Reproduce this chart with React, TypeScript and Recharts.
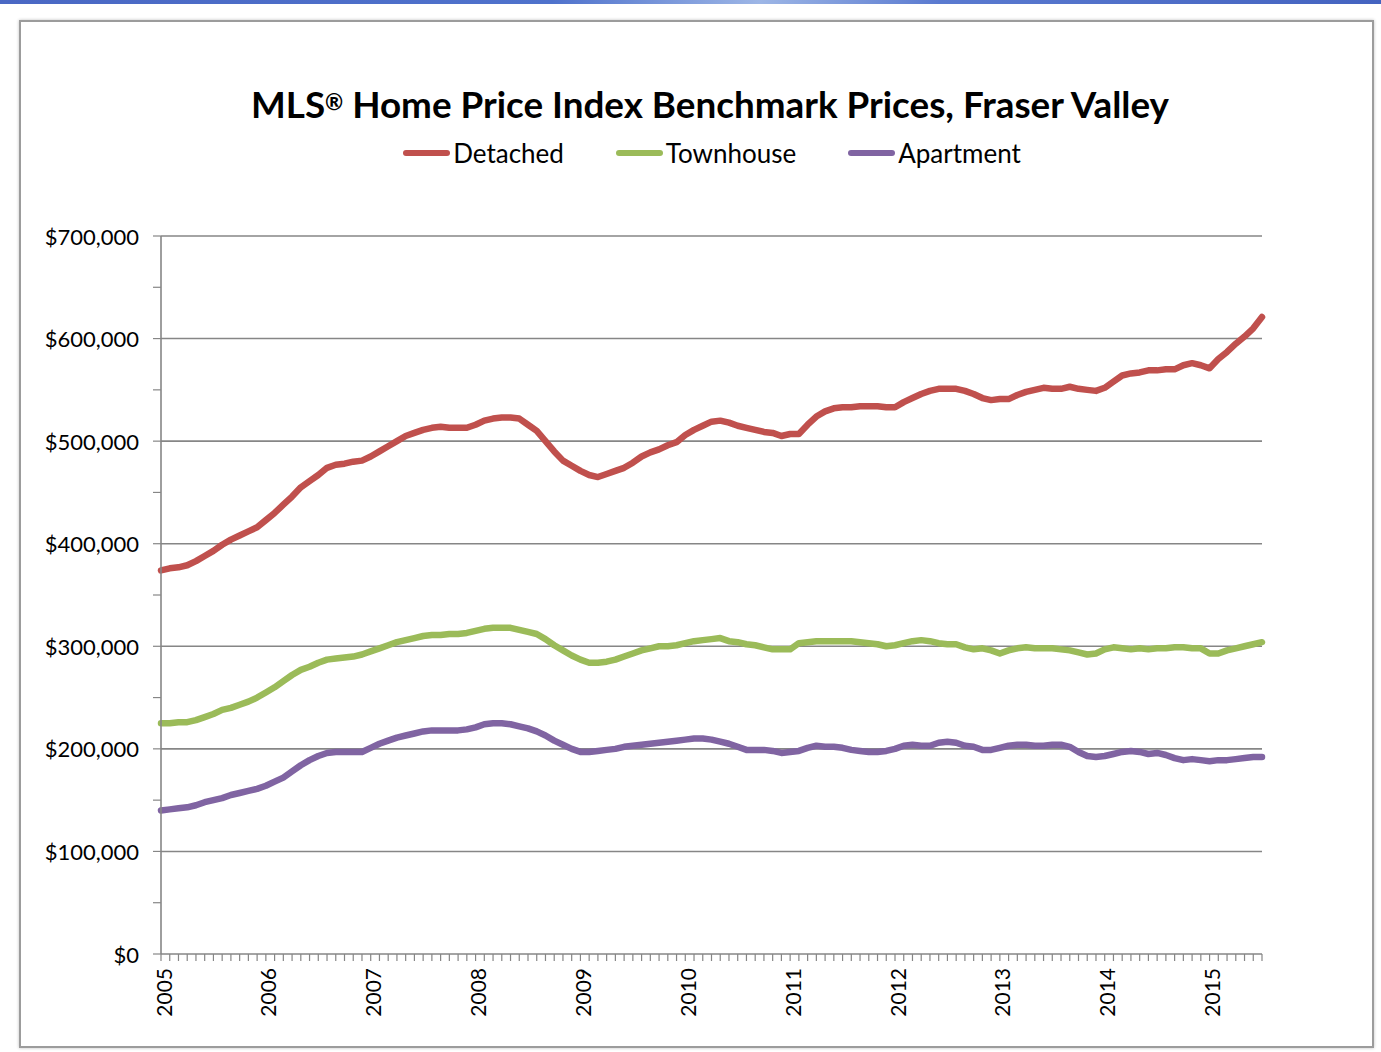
import React from 'react';
import { LineChart, Line, XAxis, YAxis, ReferenceLine } from 'recharts';

const TITLE_A = 'MLS';
const TITLE_B = ' Home Price Index Benchmark Prices, Fraser Valley';

const years = [2005, 2006, 2007, 2008, 2009, 2010, 2011, 2012, 2013, 2014, 2015];
const lastYearMonths = 7; // Jan..Jul 2015

// monthly benchmark prices, Jan 2005 .. Jul 2015 (thousands of dollars)
const detached = [
  374, 376, 377, 379, 383, 388, 393, 399, 404, 408, 412, 416,
  423, 430, 438, 446, 455, 461, 467, 474, 477, 478, 480, 481,
  485, 490, 495, 500, 505, 508, 511, 513, 514, 513, 513, 513,
  516, 520, 522, 523, 523, 522, 516, 510, 500, 490, 481, 476,
  471, 467, 465, 468, 471, 474, 479, 485, 489, 492, 496, 499,
  506, 511, 515, 519, 520, 518, 515, 513, 511, 509, 508, 505,
  507, 507, 516, 524, 529, 532, 533, 533, 534, 534, 534, 533,
  533, 538, 542, 546, 549, 551, 551, 551, 549, 546, 542, 540,
  541, 541, 545, 548, 550, 552, 551, 551, 553, 551, 550, 549,
  552, 558, 564, 566, 567, 569, 569, 570, 570, 574, 576, 574,
  571, 580, 587, 595, 602, 610, 621,
];

const townhouse = [
  225, 225, 226, 226, 228, 231, 234, 238, 240, 243, 246, 250,
  255, 260, 266, 272, 277, 280, 284, 287, 288, 289, 290, 292,
  295, 298, 301, 304, 306, 308, 310, 311, 311, 312, 312, 313,
  315, 317, 318, 318, 318, 316, 314, 312, 307, 301, 296, 291,
  287, 284, 284, 285, 287, 290, 293, 296, 298, 300, 300, 301,
  303, 305, 306, 307, 308, 305, 304, 302, 301, 299, 297, 297,
  297, 303, 304, 305, 305, 305, 305, 305, 304, 303, 302, 300,
  301, 303, 305, 306, 305, 303, 302, 302, 299, 297, 298, 296,
  293, 296, 298, 299, 298, 298, 298, 297, 296, 294, 292, 293,
  297, 299, 298, 297, 298, 297, 298, 298, 299, 299, 298, 298,
  293, 293, 296, 298, 300, 302, 304,
];

const apartment = [
  140, 141, 142, 143, 145, 148, 150, 152, 155, 157, 159, 161,
  164, 168, 172, 178, 184, 189, 193, 196, 197, 197, 197, 197,
  201, 205, 208, 211, 213, 215, 217, 218, 218, 218, 218, 219,
  221, 224, 225, 225, 224, 222, 220, 217, 213, 208, 204, 200,
  197, 197, 198, 199, 200, 202, 203, 204, 205, 206, 207, 208,
  209, 210, 210, 209, 207, 205, 202, 199, 199, 199, 198, 196,
  197, 198, 201, 203, 202, 202, 201, 199, 198, 197, 197, 198,
  200, 203, 204, 203, 203, 206, 207, 206, 203, 202, 199, 199,
  201, 203, 204, 204, 203, 203, 204, 204, 202, 197, 193, 192,
  193, 195, 197, 198, 197, 195, 196, 194, 191, 189, 190, 189,
  188, 189, 189, 190, 191, 192, 192,
];

const seriesNames = ['Detached', 'Townhouse', 'Apartment'];
const seriesKeys = ['detached', 'townhouse', 'apartment'];
const seriesColors = ['#C0504D', '#9BBB59', '#8064A2'];

const yTicks = [0, 50000, 100000, 150000, 200000, 250000, 300000, 350000, 400000, 450000, 500000, 550000, 600000, 650000, 700000];
const gridValues = [100000, 200000, 300000, 400000, 500000, 600000, 700000];

// month categories
const monthLabels: string[] = [];
years.forEach((y, yi) => {
  const n = yi === years.length - 1 ? lastYearMonths : 12;
  for (let m = 1; m <= n; m++) monthLabels.push(`${y}-${String(m).padStart(2, '0')}`);
});

const data = monthLabels.map((label, i) => ({
  idx: i,
  label,
  detached: detached[i] * 1000,
  townhouse: townhouse[i] * 1000,
  apartment: apartment[i] * 1000,
}));

const xTicks = monthLabels.map((_, i) => i);

const FONT = 'Lato, "Open Sans", sans-serif';
const AXIS = '#868686';

const XTick = (props: any) => {
  const { x, payload } = props;
  const label = monthLabels[payload.value];
  if (!label || !label.endsWith('-01')) return null;
  const yr = label.slice(0, 4);
  return (
    <text
      x={0}
      y={0}
      transform={`translate(${x + 2}, 968) rotate(-90)`}
      textAnchor="end"
      dominantBaseline="central"
      fontSize={21}
      fontFamily={FONT}
      fill="#000"
    >
      {yr}
    </text>
  );
};

const YTick = (props: any) => {
  const { y, payload } = props;
  if (payload.value % 100000 !== 0) return null;
  return (
    <text x={139} y={y} textAnchor="end" dominantBaseline="central" fontSize={22} fontFamily={FONT} fill="#000">
      {'$' + payload.value.toLocaleString('en-US')}
    </text>
  );
};

export default function App() {
  return (
    <div style={{ position: 'absolute', left: 0, top: 0, width: 1381, height: 1052, background: '#fff', overflow: 'hidden' }}>
      <div
        style={{
          position: 'absolute', left: 0, top: 0, width: 1381, height: 4,
          background: 'linear-gradient(90deg, #4a68c4 0%, #4f72cc 40%, #9db6e6 55%, #5a7ad0 68%, #4463c0 100%)',
        }}
      />
      <div
        style={{
          position: 'absolute', left: 19, top: 20, width: 1351, height: 1024,
          border: '2px solid #9c9c9c', boxShadow: '0 0 3px rgba(0,0,0,0.25)',
        }}
      />
      <div
        style={{
          position: 'absolute', left: 0, top: 81, width: 1420, textAlign: 'center',
          fontFamily: FONT, fontWeight: 700, fontSize: 36.8, color: '#000', lineHeight: '46px',
        }}
      >
        {TITLE_A}
        <span style={{ fontSize: 22, verticalAlign: 'top', position: 'relative', top: -2 }}>®</span>
        {TITLE_B}
      </div>
      <div
        style={{
          position: 'absolute', left: 0, top: 137, width: 1424, display: 'flex', justifyContent: 'center',
          gap: 52, fontFamily: FONT, fontSize: 26, color: '#000', lineHeight: '32px',
        }}
      >
        {seriesNames.map((n, i) => (
          <div key={n} style={{ display: 'flex', alignItems: 'center' }}>
            <div style={{ width: 47, height: 6, borderRadius: 3, background: seriesColors[i], marginRight: 3 }} />
            <span>{n}</span>
          </div>
        ))}
      </div>
      <div style={{ position: 'absolute', left: 0, top: 0 }}>
        <LineChart width={1381} height={1052} data={data} margin={{ top: 236, right: 119, bottom: 0, left: 0 }}>
          {gridValues.map((v) => (
            <ReferenceLine key={v} y={v} stroke={AXIS} strokeWidth={1.6} ifOverflow="extendDomain" />
          ))}
          <XAxis
            dataKey="idx"
            type="number"
            domain={[0, 126]}
            ticks={xTicks}
            interval={0}
            height={98}
            axisLine={{ stroke: AXIS, strokeWidth: 1.6 }}
            tickLine={{ stroke: AXIS, strokeWidth: 1.2 }}
            tickSize={7}
            tick={<XTick />}
          />
          <YAxis
            type="number"
            domain={[0, 700000]}
            ticks={yTicks}
            interval={0}
            width={161}
            axisLine={{ stroke: AXIS, strokeWidth: 1.6 }}
            tickLine={{ stroke: AXIS, strokeWidth: 1.2 }}
            tickSize={8}
            tick={<YTick />}
          />
          {seriesKeys.map((k, i) => (
            <Line
              key={k}
              type="linear"
              dataKey={k}
              name={seriesNames[i]}
              stroke={seriesColors[i]}
              strokeWidth={6.5}
              dot={false}
              activeDot={false}
              strokeLinejoin="round"
              strokeLinecap="round"
              isAnimationActive={false}
            />
          ))}
        </LineChart>
      </div>
    </div>
  );
}
